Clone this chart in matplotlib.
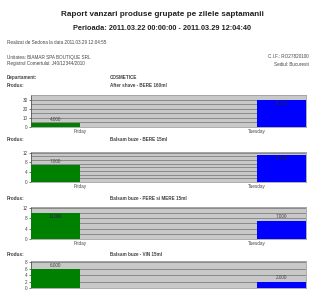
#!/usr/bin/env python3
# Raport vanzari produse grupate pe zilele saptamanii - recreated as a page with 4 bar charts

import matplotlib
matplotlib.use("Agg")
import matplotlib.pyplot as plt
import numpy as np

# ---- data ----
days = ["Friday", "Tuesday"]
departament = "COSMETICE"
products = ["After shave - BERE 160ml",
            "Balsam buze - BERE 15ml",
            "Balsam buze - PERE si MERE 15ml",
            "Balsam buze - VIN 15ml"]
friday_qty = [4, 7, 10, 6]
tuesday_qty = [30, 11, 7, 2]
y_top = [35, 12.3, 12.2, 8.4]
tick_step = [10, 4, 4, 2]
grid_step = [5, 1.5, 2, 2]

W, H = 311, 291
txt_col = "#444444"
font = "Liberation Sans"


def rect(x0, y0, x1, y1):
	# pixel box -> figure fraction
	return [x0 / W, 1 - y1 / H, (x1 - x0) / W, (y1 - y0) / H]


def put(fig, x, y, s, **kw):
	kw.setdefault("fontsize", 3.3)
	kw.setdefault("color", txt_col)
	kw.setdefault("family", font)
	kw.setdefault("va", "center")
	fig.text(x / W, 1 - y / H, s, **kw)


def main():
	fig = plt.figure(figsize=(W / 100, H / 100), dpi=100)
	fig.patch.set_facecolor("white")

	put(fig, 162, 14, "Raport vanzari produse grupate pe zilele saptamanii",
		fontsize=5.9, weight="bold", color="#222222", ha="center")
	put(fig, 162, 28, "Perioada: 2011.03.22 00:00:00 - 2011.03.29 12:04:40",
		fontsize=5.3, weight="bold", color="#222222", ha="center")
	put(fig, 7, 43, "Realizat de Sedona la data 2011.03.29 12:04:55")
	put(fig, 7, 57, "Unitatea: BIAMAR SPA BOUTIQUE SRL")
	put(fig, 7, 64, "Registrul Comertului: J40/12344/2010")
	put(fig, 309, 57, "C.I.F.: RO27820100", ha="right")
	put(fig, 309, 64, "Sediul: Bucuresti", ha="right")
	put(fig, 7, 78, "Departament:", weight="bold")
	put(fig, 110, 78, departament, weight="bold")

	boxes = [(95, 127), (152, 182), (207, 239), (261, 288)]
	produs_y = [85, 139, 198, 254]
	w = 0.216
	x = np.arange(len(days))

	for i, prod in enumerate(products):
		put(fig, 7, produs_y[i], "Produs:", weight="bold")
		put(fig, 110, produs_y[i], prod, weight="bold")

		top, bottom = boxes[i]
		ax = fig.add_axes(rect(31, top, 306, bottom))
		ax.set_facecolor("#c8c8c8")
		vals = [friday_qty[i], tuesday_qty[i]]
		ax.bar(x, vals, width=w, color=["#008000", "#0000ff"], zorder=3)
		ax.set_xlim(-w / 2, 1 + w / 2)
		ax.set_ylim(0, y_top[i])

		for gy in np.arange(grid_step[i], y_top[i], grid_step[i]):
			ax.axhline(gy, color="#8a8a8a", lw=0.7, zorder=1)

		for xi, v in zip(x, vals):
			if v > 0.8 * y_top[i]:
				ax.text(xi, v - 0.04 * y_top[i], f"{v:.3f}", ha="center", va="top",
						fontsize=3.3, color="#222244", family=font, zorder=4)
			else:
				ax.text(xi, v + 0.04 * y_top[i], f"{v:.3f}", ha="center", va="bottom",
						fontsize=3.3, color=txt_col, family=font, zorder=4)

		ax.set_yticks(np.arange(0, y_top[i], tick_step[i]))
		ax.set_xticks([w / 2, 1 - w / 2])
		# the last chart runs off the bottom of the page, its day labels are not visible
		if i < len(products) - 1:
			ax.set_xticklabels(days)
		else:
			ax.set_xticklabels([])
		ax.tick_params(axis="y", labelsize=3.3, length=1.5, width=0.5, pad=1,
					   colors=txt_col)
		ax.tick_params(axis="x", labelsize=3.3, length=0, pad=1.5, colors=txt_col)
		for lab in ax.get_xticklabels() + ax.get_yticklabels():
			lab.set_family(font)
		for side in ["top", "right", "bottom"]:
			ax.spines[side].set_color("#a0a0a0")
			ax.spines[side].set_linewidth(0.6)
		ax.spines["left"].set_color("#555555")
		ax.spines["left"].set_linewidth(0.6)

	fig.savefig("out.png", dpi=100)
	return 0


if __name__ == '__main__':
	import sys
	sys.exit(main())
